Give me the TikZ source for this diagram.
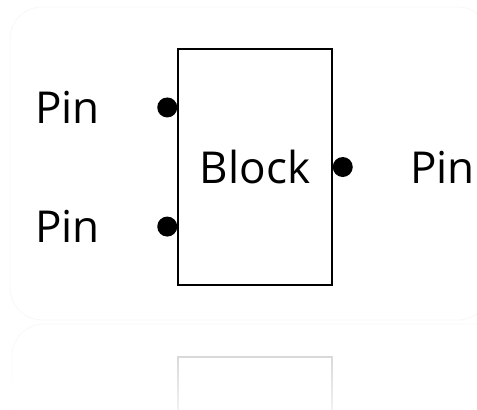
\documentclass[tikz,border=0pt]{standalone}
\usepackage{fontspec}
\setmainfont{Open Sans}
\usetikzlibrary{positioning,fadings}

\tikzset{
  blockbox/.style={draw, line width=1.1pt, minimum width=154pt, minimum height=236pt, inner sep=0pt, font=\fontsize{44}{48}\selectfont},
  pindot/.style={circle, fill=black, minimum size=20pt, inner sep=0pt},
  pinlabel/.style={inner sep=0pt, font=\fontsize{44}{48}\selectfont},
}

\begin{document}
\begin{tikzpicture}[x=1pt,y=-1pt]
  \useasboundingbox (0,0) rectangle (477,410);
  % soft panel and its mirror
  \draw[black!3, line width=0.8pt, rounded corners=32pt] (10,7) rectangle (490,320);
  \draw[black!3, line width=0.8pt, rounded corners=32pt, path fading=south] (12,440) -- (12,324) -- (490,324);

  % the block
  \node[blockbox] (block) at (255,167) {Block};

  % pins on the sides
  \node[pindot, anchor=east] (pinA) at ([yshift=-59pt]block.north west) {};
  \node[pindot, anchor=east] (pinB) at ([yshift=59pt]block.south west) {};
  \node[pindot, anchor=west] (pinC) at (block.east) {};

  \node[pinlabel, left=57pt of pinA] (labA) {Pin};
  \node[pinlabel, left=57pt of pinB] (labB) {Pin};
  \node[pinlabel, right=57pt of pinC] (labC) {Pin};

  % reflection under the block
  \draw[black!15, line width=1.6pt, path fading=south] (178,440) -- (178,357) -- (332,357) -- (332,440);
\end{tikzpicture}
\end{document}
